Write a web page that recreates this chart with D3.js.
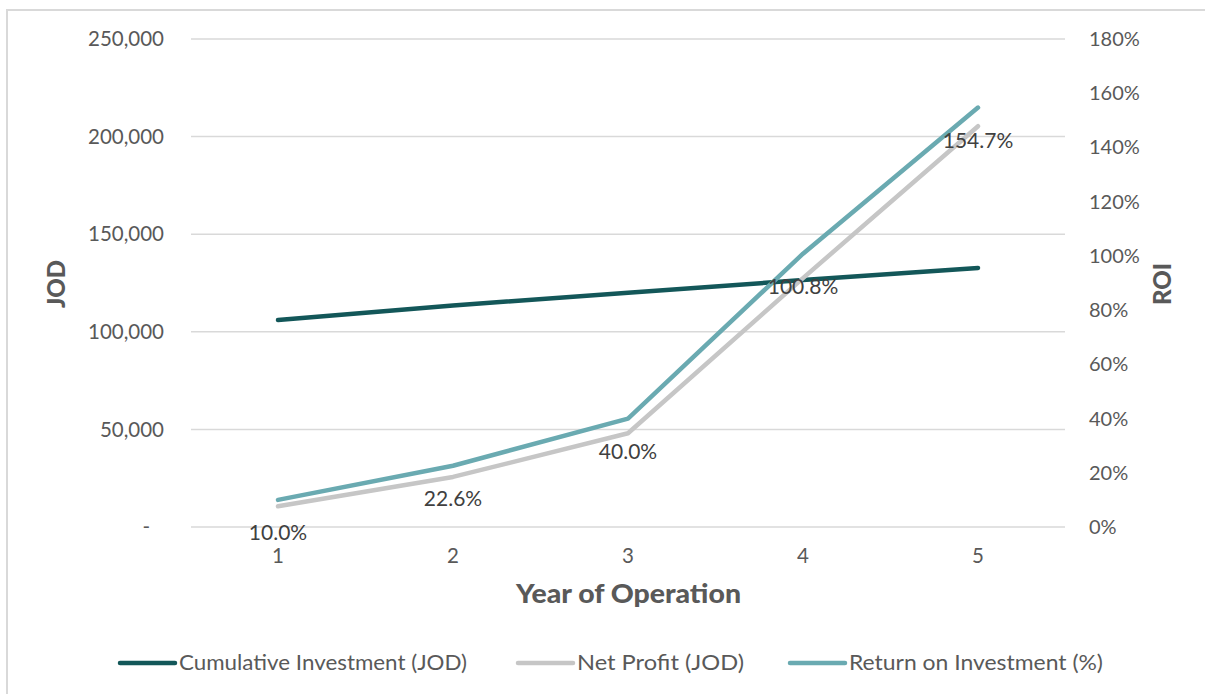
<!DOCTYPE html>
<html><head><meta charset="utf-8">
<script src="https://cdn.jsdelivr.net/npm/d3@7/dist/d3.min.js"></script>
<style>
body{margin:0;background:#fff;}
svg{display:block;font-family:Lato,"Open Sans",sans-serif;}
</style></head>
<body>
<svg id="c" width="1205" height="694"></svg>
<script>
const years = ["1","2","3","4","5"];
const cumulativeInvestment = [106000, 113500, 120000, 126500, 132700];
const netProfit = [10600, 25650, 48000, 127500, 205300];
const roi = [0.100, 0.226, 0.400, 1.008, 1.547];
const leftTicks = [0, 50000, 100000, 150000, 200000, 250000];
const rightTicks = [0, 0.2, 0.4, 0.6, 0.8, 1.0, 1.2, 1.4, 1.6, 1.8];
const seriesNames = ["Cumulative Investment (JOD)", "Net Profit (JOD)", "Return on Investment (%)"];
const colors = ["#135759", "#c6c6c6", "#6aaab1"];

const svg = d3.select("#c");
// chart border
svg.append("rect").attr("x",7).attr("y",10).attr("width",1205).attr("height",700)
  .attr("fill","none").attr("stroke","#d9d9d9").attr("stroke-width",2);

const x = d3.scalePoint().domain(years).range([278, 978]);
const yL = d3.scaleLinear().domain([0,250000]).range([527,39]);
const yR = d3.scaleLinear().domain([0,1.8]).range([527,39]);

// gridlines
svg.append("g").selectAll("line").data(leftTicks).join("line")
  .attr("x1",191).attr("x2",1065).attr("y1",d=>yL(d)).attr("y2",d=>yL(d))
  .attr("stroke","#d9d9d9").attr("stroke-width",1.5);

// left axis labels
const fmt = d3.format(",");
svg.append("g").selectAll("text").data(leftTicks).join("text")
  .attr("x",d=>d===0?150:164).attr("y",d=>yL(d)).attr("dy","0.35em")
  .attr("text-anchor","end").attr("font-size",20.5).attr("fill","#595959")
  .text(d=>d===0?"-":fmt(d));

// right axis labels
svg.append("g").selectAll("text").data(rightTicks).join("text")
  .attr("x",1089).attr("y",d=>yR(d)).attr("dy","0.35em")
  .attr("text-anchor","start").attr("font-size",20).attr("fill","#595959")
  .text(d=>Math.round(d*100)+"%");

// x labels
svg.append("g").selectAll("text").data(years).join("text")
  .attr("x",d=>x(d)).attr("y",556).attr("dy","0.35em")
  .attr("text-anchor","middle").attr("font-size",20.5).attr("fill","#595959")
  .text(d=>d);

// axis titles
svg.append("text").attr("x",516).attr("y",594).attr("dy","0.35em")
  .attr("text-anchor","start").attr("font-size",26).attr("font-weight",900)
  .attr("textLength",225).attr("lengthAdjust","spacingAndGlyphs")
  .attr("fill","#595959").text("Year of Operation");
svg.append("text").attr("transform","translate(57,284) rotate(-90)").attr("dy","0.35em")
  .attr("text-anchor","middle").attr("font-size",24).attr("font-weight",900)
  .attr("fill","#595959").text("JOD");
svg.append("text").attr("transform","translate(1163,284) rotate(-90)").attr("dy","0.35em")
  .attr("text-anchor","middle").attr("font-size",24).attr("font-weight",900)
  .attr("fill","#595959").text("ROI");

const line = d3.line().x(d=>x(d[0])).y(d=>d[1]);
const s1 = years.map((y,i)=>[y, yL(cumulativeInvestment[i])]);
const s2 = years.map((y,i)=>[y, yL(netProfit[i])]);
const s3 = years.map((y,i)=>[y, yR(roi[i])]);
[s1,s2,s3].forEach((s,i)=>{
  svg.append("path").attr("d",line(s)).attr("fill","none")
    .attr("stroke",colors[i]).attr("stroke-width",4.5)
    .attr("stroke-linecap","round").attr("stroke-linejoin","round");
});

// data labels (below ROI points)
svg.append("g").selectAll("text").data(roi).join("text")
  .attr("x",(d,i)=>x(years[i])).attr("y",d=>yR(d)+33).attr("dy","0.35em")
  .attr("text-anchor","middle").attr("font-size",21).attr("fill","#404040")
  .text(d=>(d*100).toFixed(1)+"%");

// legend
const legX = [120, 518, 790];
const legLen = [288, 167, 254];
const lg = svg.append("g");
seriesNames.forEach((n,i)=>{
  lg.append("line").attr("x1",legX[i]).attr("x2",legX[i]+55).attr("y1",663).attr("y2",663)
    .attr("stroke",colors[i]).attr("stroke-width",4.5).attr("stroke-linecap","round");
  lg.append("text").attr("x",legX[i]+59).attr("y",663).attr("dy","0.35em")
    .attr("font-size",21).attr("fill","#595959")
    .attr("textLength",legLen[i]).attr("lengthAdjust","spacingAndGlyphs").text(n);
});
</script>
</body></html>
